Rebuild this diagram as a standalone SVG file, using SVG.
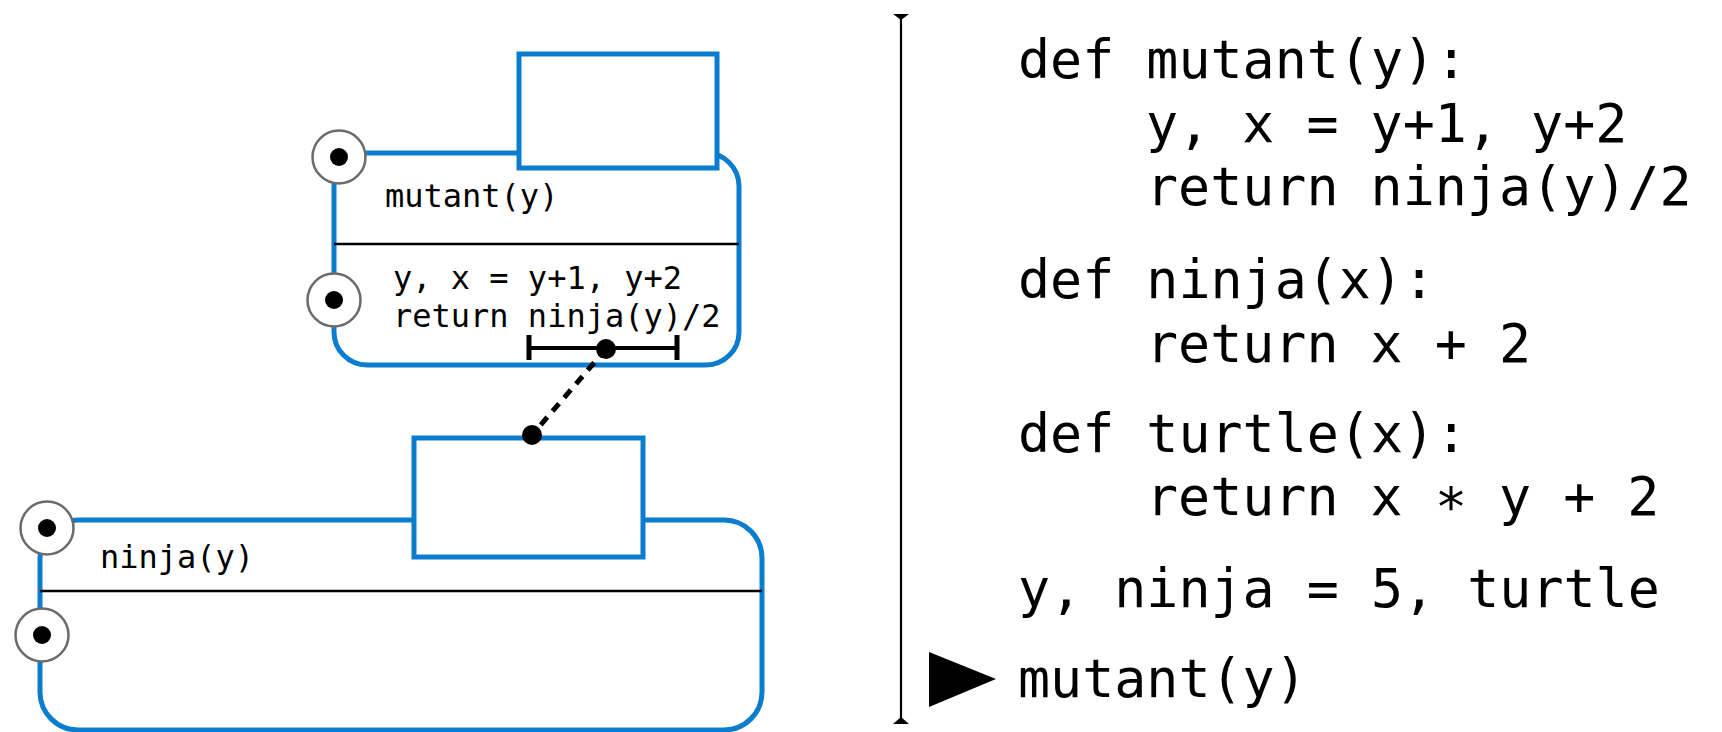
<svg xmlns="http://www.w3.org/2000/svg" width="1722" height="732" viewBox="0 0 1722 732">
  <style>
    .frame { fill: none; stroke: #0b7dcf; stroke-width: 5; }
    .box { fill: #ffffff; stroke: #0b7dcf; stroke-width: 5; }
    .sep { stroke: #000000; stroke-width: 2.5; }
    .ring { fill: #ffffff; stroke: #6b6b6b; stroke-width: 2.5; }
    .dot { fill: #000000; }
    .small { font-family: "DejaVu Sans Mono", "Liberation Mono", monospace; font-size: 32px; fill: #000000; }
    .code { font-family: "DejaVu Sans Mono", "Liberation Mono", monospace; font-size: 53.3px; fill: #000000; }
  </style>
  <rect width="1722" height="732" fill="#ffffff"/>

  <g id="frame-mutant">
    <rect class="frame" x="334" y="153" width="405" height="212" rx="33" ry="33"/>
    <rect class="box" x="519" y="54" width="198" height="114"/>
    <line class="sep" x1="334" y1="244" x2="739" y2="244"/>
    <text class="small" x="385" y="207">mutant(y)</text>
    <text class="small" x="393" y="289" xml:space="preserve">y, x = y+1, y+2</text>
    <text class="small" x="393" y="327">return ninja(y)/2</text>
    <circle class="ring" cx="339" cy="157" r="26.5"/>
    <circle class="dot" cx="339" cy="157" r="9"/>
    <circle class="ring" cx="334" cy="300" r="26.5"/>
    <circle class="dot" cx="334" cy="300" r="9"/>
  </g>

  <g id="frame-ninja">
    <rect class="frame" x="40" y="520" width="722" height="210" rx="38" ry="38"/>
    <rect class="box" x="414" y="438" width="229" height="119"/>
    <line class="sep" x1="40" y1="591" x2="762" y2="591"/>
    <text class="small" x="100" y="568">ninja(y)</text>
    <circle class="ring" cx="47" cy="528" r="26.5"/>
    <circle class="dot" cx="47" cy="528" r="9"/>
    <circle class="ring" cx="42" cy="635" r="26.5"/>
    <circle class="dot" cx="42" cy="635" r="9"/>
  </g>

  <g id="connectors">
    <line x1="529" y1="348" x2="677" y2="348" stroke="#000" stroke-width="4"/>
    <line x1="529" y1="335" x2="529" y2="360" stroke="#000" stroke-width="5"/>
    <line x1="677" y1="335" x2="677" y2="360" stroke="#000" stroke-width="5"/>
    <line x1="606" y1="349" x2="532" y2="435" stroke="#000" stroke-width="5" stroke-dasharray="10,8"/>
    <circle class="dot" cx="606" cy="349" r="10"/>
    <circle class="dot" cx="532" cy="435" r="10"/>
  </g>

  <g id="code">
    <line x1="901" y1="14" x2="901" y2="724" stroke="#000" stroke-width="2.2"/>
    <path d="M893,14 L909,14 L901,20 Z" fill="#000"/>
    <path d="M893,724 L909,724 L901,717 Z" fill="#000"/>
    <text class="code" x="1018" y="78">def mutant(y):</text>
    <text class="code" x="1146" y="142" xml:space="preserve">y, x = y+1, y+2</text>
    <text class="code" x="1146" y="205">return ninja(y)/2</text>
    <text class="code" x="1018" y="298">def ninja(x):</text>
    <text class="code" x="1146" y="362">return x + 2</text>
    <text class="code" x="1018" y="452">def turtle(x):</text>
    <text class="code" x="1146" y="515">return x ∗ y + 2</text>
    <text class="code" x="1018" y="607">y, ninja = 5, turtle</text>
    <text class="code" x="1018" y="697">mutant(y)</text>
    <path d="M929,652 L996,679 L929,707 Z" fill="#000"/>
  </g>
</svg>
